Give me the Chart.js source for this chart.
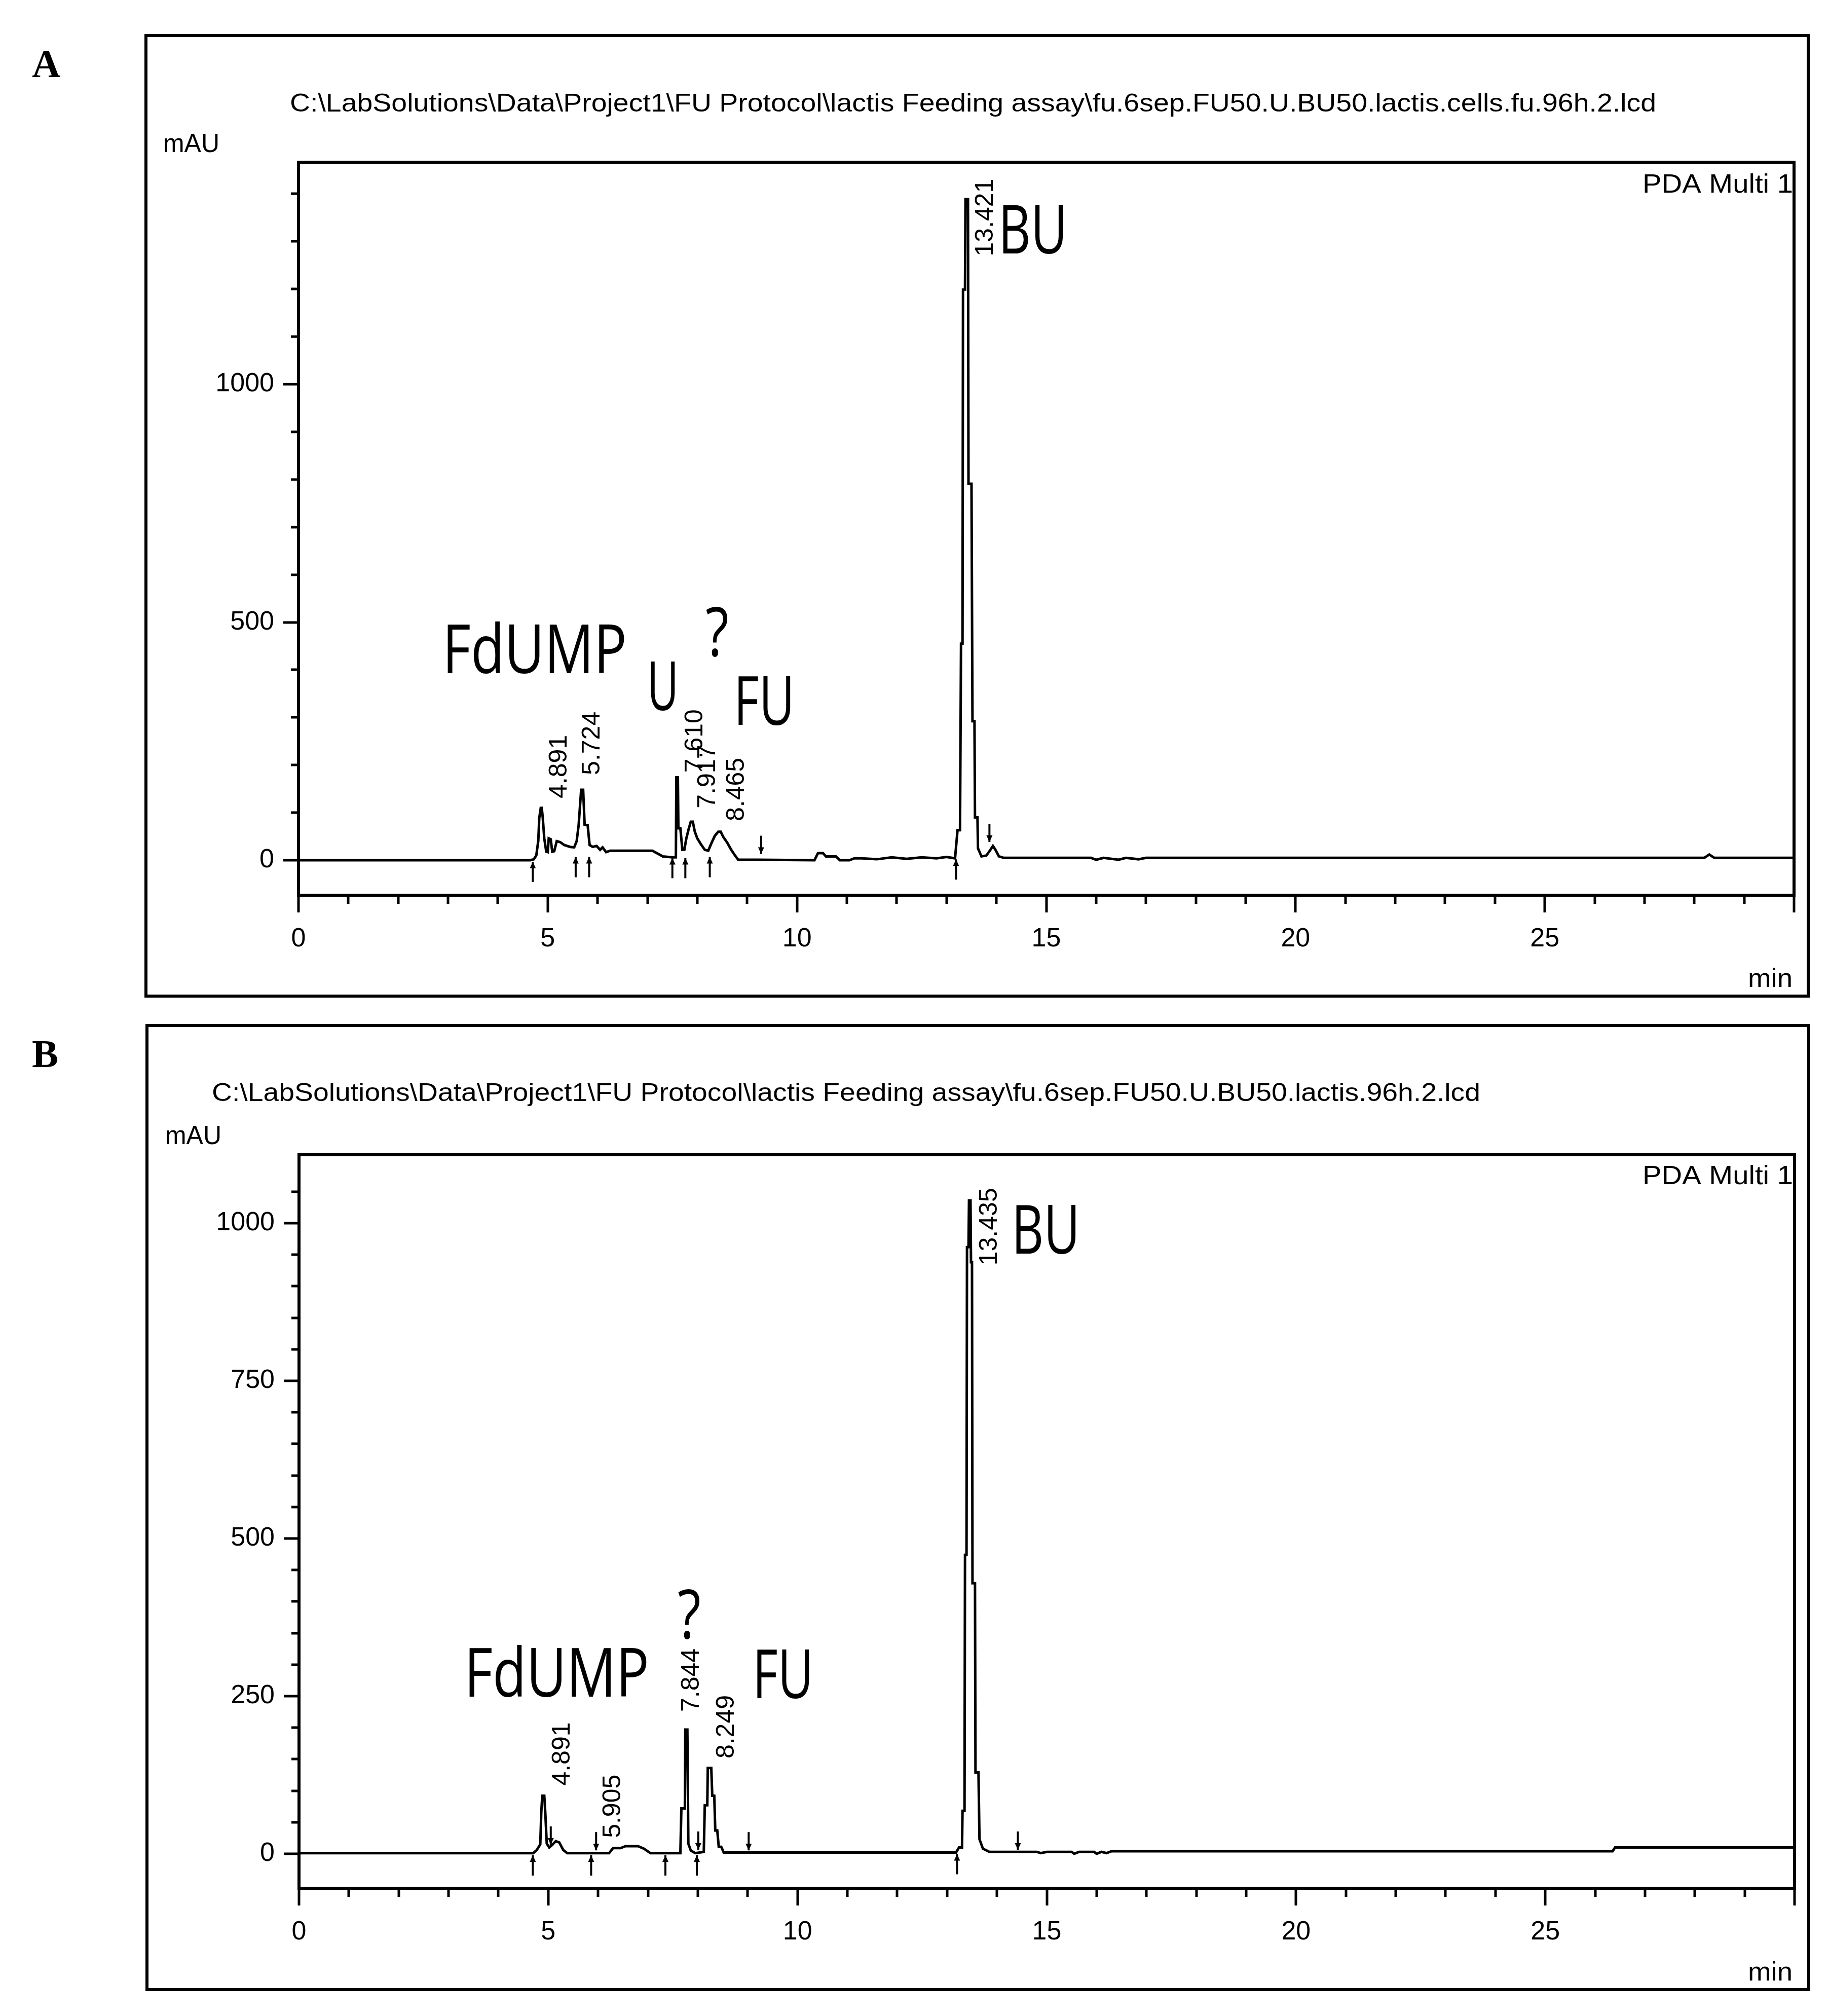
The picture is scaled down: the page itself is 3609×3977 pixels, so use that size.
<!DOCTYPE html>
<html>
<head>
<meta charset="utf-8">
<script src="https://cdn.jsdelivr.net/npm/chart.js@4.4.1/dist/chart.umd.min.js"></script>
<style>
html, body { margin: 0; padding: 0; background: #fff; }
#wrap { position: relative; width: 3609px; height: 3977px; background: #fff; }
canvas { position: absolute; left: 0; }
</style>
</head>
<body>
<div id="wrap">
  <canvas id="cA" width="3609" height="2000" style="top:0;width:3609px;height:2000px"></canvas>
  <canvas id="cB" width="3609" height="1977" style="top:2000px;width:3609px;height:1977px"></canvas>
</div>
<script>
// ---------------- DATA ----------------
const titleA = 'C:\\LabSolutions\\Data\\Project1\\FU Protocol\\lactis Feeding assay\\fu.6sep.FU50.U.BU50.lactis.cells.fu.96h.2.lcd';
const titleB = 'C:\\LabSolutions\\Data\\Project1\\FU Protocol\\lactis Feeding assay\\fu.6sep.FU50.U.BU50.lactis.96h.2.lcd';
const detectorLabel = 'PDA Multi 1';
const yUnit = 'mAU';
const xUnit = 'min';

// Panel A chromatogram (time in min, absorbance in mAU)
const timeA = [0, 4.65, 4.72, 4.77, 4.81, 4.83, 4.86, 4.88, 4.90, 4.93, 4.97, 5.00, 5.02, 5.06, 5.09, 5.13, 5.18, 5.25, 5.33, 5.45, 5.53,
  5.58, 5.62, 5.67, 5.71, 5.74, 5.80, 5.84, 5.90, 5.98, 6.05, 6.10, 6.17, 6.25, 7.10, 7.31, 7.50, 7.57, 7.58, 7.61, 7.62, 7.66,
  7.70, 7.74, 7.78, 7.83, 7.87, 7.91, 7.95, 8.00, 8.07, 8.15, 8.22, 8.28, 8.35, 8.42, 8.47, 8.52, 8.60, 8.68, 8.75, 8.82, 9.20,
  10.35, 10.42, 10.52, 10.58, 10.78, 10.86, 11.05, 11.15, 11.3, 11.6, 11.9, 12.2, 12.5, 12.8, 13.0, 13.17,
  13.22, 13.27, 13.29, 13.32, 13.33, 13.37, 13.38, 13.43, 13.44, 13.50, 13.52, 13.56, 13.57, 13.62, 13.63, 13.70, 13.80, 13.88,
  13.93, 13.98, 14.05, 14.15, 15.9, 16.0, 16.15, 16.45, 16.6, 16.85, 17.0, 28.2, 28.3, 28.4, 30];
const signalA = [0, 0, 2, 10, 41, 89, 110, 110, 89, 46, 18, 17, 46, 44, 18, 19, 40, 38, 32, 28, 27,
  40, 74, 148, 148, 74, 74, 32, 28, 30, 22, 27, 17, 20, 20, 8, 6, 6, 174, 174, 67, 67,
  22, 22, 46, 67, 81, 81, 60, 46, 34, 22, 20, 35, 51, 60, 60, 49, 37, 22, 11, 1, 1,
  0, 15, 15, 8, 8, 0, 0, 4, 4, 2, 6, 3, 6, 4, 7, 4,
  63, 63, 455, 455, 1199, 1199, 1389, 1389, 791, 791, 292, 292, 90, 90, 25, 8, 10, 22,
  30, 22, 8, 5, 5, 1, 5, 1, 5, 2, 5, 5, 12, 5, 5];

// Panel B chromatogram
const timeB = [0, 4.70, 4.77, 4.84, 4.86, 4.88, 4.92, 4.94, 4.97, 5.02, 5.08, 5.15, 5.22, 5.30, 5.38, 6.22, 6.30, 6.45, 6.55, 6.80,
  6.92, 7.05, 7.65, 7.67, 7.74, 7.75, 7.79, 7.81, 7.86, 7.95, 8.12, 8.14, 8.19, 8.20, 8.27, 8.29, 8.33, 8.35, 8.39, 8.42, 8.47,
  8.52, 13.18, 13.24, 13.30, 13.31, 13.35, 13.36, 13.39, 13.40, 13.43, 13.44, 13.47, 13.48, 13.50, 13.51, 13.56, 13.57, 13.63,
  13.65, 13.72, 13.85, 14.8, 14.88, 15.0, 15.5, 15.55, 15.65, 15.95, 16.0, 16.1, 16.2, 16.3, 26.35, 26.4, 30];
const signalB = [1, 1, 6, 15, 66, 92, 92, 66, 16, 10, 14, 20, 18, 6, 1, 1, 9, 9, 12, 12,
  8, 1, 1, 72, 72, 197, 197, 16, 5, 1, 3, 77, 77, 136, 136, 92, 92, 37, 37, 11, 11,
  2, 2, 10, 10, 68, 68, 474, 474, 962, 962, 1036, 1036, 938, 938, 429, 429, 129, 129,
  23, 8, 3, 3, 1, 3, 3, 0, 3, 3, 0, 3, 1, 4, 4, 10, 10];

// Peak retention-time labels and compound names
const peakRtA = ['4.891', '5.724', '7.610', '7.917', '8.465', '13.421'];
const peakRtB = ['4.891', '5.905', '7.844', '8.249', '13.435'];
const compoundsA = ['FdUMP', 'U', '?', 'FU', 'BU'];
const compoundsB = ['FdUMP', '?', 'FU', 'BU'];

// Integration marks (time in min, level in mAU)
const startMarksA = [[4.70, 0], [5.56, 10], [5.83, 10], [7.50, 8], [7.76, 8], [8.25, 10], [13.19, 5]];
const endMarksA = [[9.28, 10], [13.86, 35]];
const startMarksB = [[4.69, 0], [5.86, 0], [7.35, 0], [7.98, 0], [13.20, 2]];
const endMarksB = [[5.05, 12], [5.96, 3], [8.01, 4], [9.02, 3], [14.42, 4]];

// ---------------- LAYOUT (positions / styles) ----------------
const SANS = '"Liberation Sans", Arial, sans-serif';
const SERIF = '"Liberation Serif", "Times New Roman", serif';
const ANNOT = '"Open Sans", "Noto Sans", sans-serif';

// annotation anchors in data units: [min, mAU, width px]
const peakLabelAtA = [[5.235, 130], [5.896, 179], [7.96, 184], [8.214, 109], [8.793, 82], [13.785, 1269]];
const peakLabelAtB = [[5.286, 108], [6.303, 25], [7.878, 225], [8.58, 151], [13.856, 933]];
const compoundAtA = [[2.887, 393, 364], [6.994, 315, 62], [8.163, 429, 46], [8.732, 284, 120], [14.04, 1275, 136]];
const compoundAtB = [[3.314, 249, 365], [7.594, 342, 46], [9.098, 247, 120], [14.293, 952, 135]];

const panelA = {
  H: 2000, area: { left: 589, top: 320, right: 3540, bottom: 1766 },
  yMin: -73.5, yMax: 1466.5, yMinor: 100, yMajor: 500,
  box: [288, 70, 3568, 1965], letter: ['A', 63, 152],
  title: [titleA, 572, 206, 2696], mau: [322, 300, 111], pda: [3538, 380, 297], unit: [3537, 1947, 88],
  time: timeA, signal: signalA,
  rt: peakRtA, rtAt: peakLabelAtA, comp: compoundsA, compAt: compoundAtA,
  up: startMarksA, down: endMarksA
};
const panelB = {
  H: 1977, area: { left: 590, top: 278, right: 3541, bottom: 1725 },
  yMin: -54.7, yMax: 1108.5, yMinor: 50, yMajor: 250,
  box: [290, 23, 3569, 1925], letter: ['B', 63, 105],
  title: [titleB, 418, 158, 2503], mau: [326, 257, 111], pda: [3538, 336, 297], unit: [3537, 1907, 88],
  time: timeB, signal: signalB,
  rt: peakRtB, rtAt: peakLabelAtB, comp: compoundsB, compAt: compoundAtB,
  up: startMarksB, down: endMarksB
};

function drawText(ctx, s, x, y, o) {
  ctx.save();
  ctx.font = o.font;
  ctx.textAlign = o.align || 'left';
  ctx.textBaseline = o.baseline || 'alphabetic';
  ctx.translate(x, y);
  if (o.rotate) ctx.rotate(o.rotate);
  if (o.width) {
    const w = ctx.measureText(s).width;
    ctx.scale(o.width / w, 1);
  }
  ctx.fillText(s, 0, 0);
  ctx.restore();
}

const decor = {
  id: 'decor',
  afterDraw(chart, args, opts) {
    const p = opts.panel;
    const ctx = chart.ctx;
    const a = chart.chartArea;
    const xs = chart.scales.x, ys = chart.scales.y;
    ctx.save();
    ctx.strokeStyle = '#000';
    ctx.fillStyle = '#000';
    ctx.lineCap = 'butt';

    // outer frame and plot frame
    ctx.lineWidth = 6;
    ctx.strokeRect(p.box[0], p.box[1], p.box[2] - p.box[0], p.box[3] - p.box[1]);
    ctx.strokeRect(a.left, a.top, a.right - a.left, a.bottom - a.top);

    // y tick marks
    ctx.lineWidth = 5;
    ys.ticks.forEach(t => {
      const y = Math.round(ys.getPixelForValue(t.value));
      const major = t.value % p.yMajor === 0;
      ctx.beginPath();
      ctx.moveTo(a.left - (major ? 30 : 15), y);
      ctx.lineTo(a.left, y);
      ctx.stroke();
    });
    // x tick marks
    xs.ticks.forEach(t => {
      const x = Math.round(xs.getPixelForValue(t.value));
      const major = t.value % 5 === 0;
      ctx.beginPath();
      ctx.moveTo(x, a.bottom);
      ctx.lineTo(x, a.bottom + (major ? 34 : 17));
      ctx.stroke();
    });

    // integration marks
    ctx.lineWidth = 4;
    p.up.forEach(([t, v]) => {
      const x = xs.getPixelForValue(t), y = ys.getPixelForValue(v) + 3;
      ctx.beginPath(); ctx.moveTo(x, y); ctx.lineTo(x, y + 40); ctx.stroke();
      ctx.beginPath(); ctx.moveTo(x, y); ctx.lineTo(x - 6, y + 13); ctx.lineTo(x + 6, y + 13); ctx.closePath(); ctx.fill();
    });
    p.down.forEach(([t, v]) => {
      const x = xs.getPixelForValue(t), y = ys.getPixelForValue(v) - 3;
      ctx.beginPath(); ctx.moveTo(x, y); ctx.lineTo(x, y - 36); ctx.stroke();
      ctx.beginPath(); ctx.moveTo(x, y); ctx.lineTo(x - 6, y - 13); ctx.lineTo(x + 6, y - 13); ctx.closePath(); ctx.fill();
    });

    // texts
    drawText(ctx, p.letter[0], p.letter[1], p.letter[2], { font: 'bold 78px ' + SERIF });
    drawText(ctx, p.title[0], p.title[1], p.title[2], { font: '50px ' + SANS, baseline: 'middle', width: p.title[3] });
    drawText(ctx, yUnit, p.mau[0], p.mau[1], { font: '52px ' + SANS, width: p.mau[2] });
    drawText(ctx, detectorLabel, p.pda[0], p.pda[1], { font: '52px ' + SANS, align: 'right', width: p.pda[2] });
    drawText(ctx, xUnit, p.unit[0], p.unit[1], { font: '52px ' + SANS, align: 'right', width: p.unit[2] });

    // retention-time labels (rotated)
    p.rt.forEach((s, i) => {
      const [t, v] = p.rtAt[i];
      drawText(ctx, s, xs.getPixelForValue(t), ys.getPixelForValue(v),
        { font: '50px ' + SANS, baseline: 'middle', rotate: -Math.PI / 2 });
    });
    // compound names
    p.comp.forEach((s, i) => {
      const [t, v, w] = p.compAt[i];
      drawText(ctx, s, xs.getPixelForValue(t), ys.getPixelForValue(v),
        { font: '134px ' + ANNOT, width: w });
    });
    ctx.restore();
  }
};

function makeChart(canvasId, p) {
  const XH = 200;
  return new Chart(document.getElementById(canvasId), {
    type: 'line',
    data: {
      datasets: [{
        data: p.time.map((t, i) => ({ x: t, y: p.signal[i] })),
        borderColor: '#000',
        borderWidth: 5,
        pointRadius: 0,
        tension: 0,
        fill: false
      }]
    },
    options: {
      responsive: false,
      animation: false,
      devicePixelRatio: 1,
      layout: { padding: { left: 0, top: p.area.top, right: 3609 - p.area.right, bottom: p.H - p.area.bottom - XH } },
      plugins: { legend: { display: false }, tooltip: { enabled: false }, decor: { panel: p } },
      scales: {
        x: {
          type: 'linear', min: 0, max: 30,
          grid: { display: false }, border: { display: false },
          afterFit: s => { s.height = XH; },
          ticks: {
            stepSize: 1, autoSkip: false, maxRotation: 0, padding: 47,
            color: '#000', font: { family: SANS, size: 52 },
            callback: v => (v % 5 === 0 && v < 30) ? String(v) : ''
          }
        },
        y: {
          type: 'linear', min: p.yMin, max: p.yMax,
          grid: { display: false }, border: { display: false },
          afterFit: s => { s.width = p.area.left; },
          afterBuildTicks: s => { s.ticks = s.ticks.filter(t => Math.abs(t.value / p.yMinor - Math.round(t.value / p.yMinor)) < 1e-9); },
          ticks: {
            stepSize: p.yMinor, autoSkip: false, padding: 40,
            color: '#000', font: { family: SANS, size: 52 },
            callback: v => (v % p.yMajor === 0) ? String(v) : ''
          }
        }
      }
    },
    plugins: [decor]
  });
}

makeChart('cA', panelA);
makeChart('cB', panelB);
</script>
</body>
</html>
